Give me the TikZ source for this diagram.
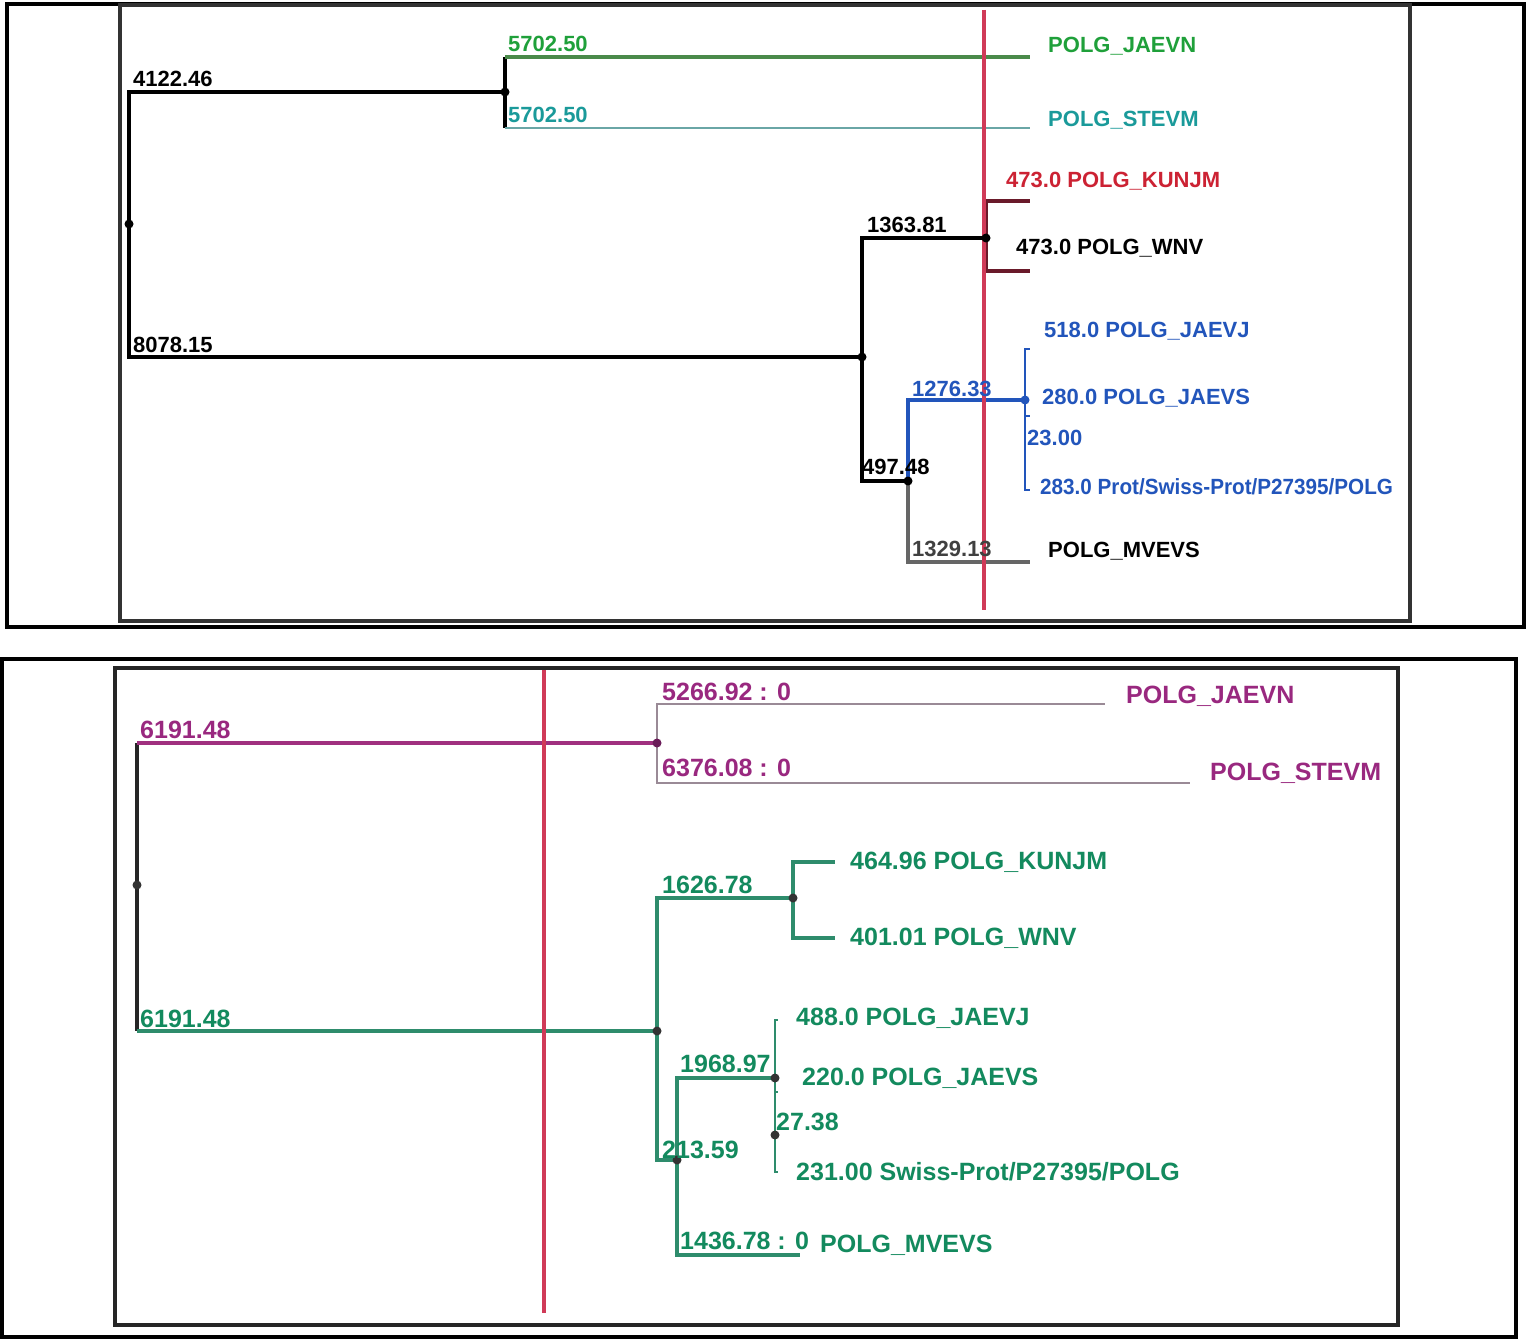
\documentclass[tikz,border=0pt]{standalone}
\usepackage{fontspec}
\setmainfont{Liberation Sans}
\definecolor{tgreen}{HTML}{1FA03A}
\definecolor{tteal}{HTML}{1A9A9A}
\definecolor{tred}{HTML}{CC2233}
\definecolor{tblue}{HTML}{2255BB}
\definecolor{bpurple}{HTML}{99287F}
\definecolor{bgreen}{HTML}{138A5E}
\definecolor{redline}{HTML}{D03A58}
\definecolor{lgreen}{HTML}{4A8A4A}
\definecolor{lteal}{HTML}{6AA6A6}
\definecolor{lpurple}{HTML}{A0307F}
\definecolor{lpgray}{HTML}{9A8A96}
\definecolor{lbgreen}{HTML}{2E8C6C}
\definecolor{maroon}{HTML}{6A1A2A}
\tikzset{
  lab/.style={anchor=west,inner sep=0pt,font=\bfseries\fontsize{22}{24}\selectfont},
  labb/.style={anchor=west,inner sep=0pt,font=\bfseries\fontsize{25}{27}\selectfont},
  treeline/.style={line width=3.4pt},
  thinline/.style={line width=2.6pt},
  redl/.style={line width=3.8pt,draw=redline},
  tdot/.style={circle,fill,inner sep=0pt,minimum size=9pt}}
\begin{document}
\begin{tikzpicture}[x=1pt,y=-1pt]
\useasboundingbox (0,0) rectangle (1526,1340);
\fill[white] (0,0) rectangle (1526,1340);
% frames
\draw[line width=3.8pt] (7,4) rectangle (1524,627);
\draw[line width=3.8pt,black!80] (120,5) rectangle (1410,621);
\draw[line width=3.8pt] (2,659) rectangle (1516,1337);
\draw[line width=3.2pt,black!85] (115,668) rectangle (1398,1325);
% ---------------- top tree ----------------
\coordinate (r1) at (129,224);
\coordinate (n1) at (505,92);
\coordinate (n2) at (862,357);
\coordinate (n3) at (986,238);
\coordinate (n4) at (908,481);
\coordinate (n5) at (1025,400);
\coordinate (n6) at (1025,453);
\coordinate (lJAEVN) at (1030,57);
\coordinate (lSTEVM) at (1030,128);
\coordinate (lKUNJM) at (1030,201);
\coordinate (lWNV) at (1030,271);
\coordinate (lJAEVJ) at (1030,349);
\coordinate (lJAEVS) at (1030,416);
\coordinate (lSWISS) at (1030,490);
\coordinate (lMVEVS) at (1030,562);
\draw[treeline] (r1) |- (n1);
\draw[treeline] (r1) |- (n2);
\draw[treeline] (n1) -- ++(0,-35);
\draw[treeline,draw=lgreen] (n1 |- lJAEVN) -- (lJAEVN);
\draw[treeline] (n1) -- ++(0,36);
\draw[thinline,draw=lteal] (n1 |- lSTEVM) -- (lSTEVM);
\draw[treeline] (n2) |- (n3);
\draw[treeline] (n2) |- (n4);
\draw[treeline,draw=maroon] (n3) |- (lKUNJM);
\draw[treeline,draw=maroon] (n3) |- (lWNV);
\draw[treeline,draw=tblue] (n4) |- (n5);
\draw[treeline,draw=black!60] (n4) |- (lMVEVS);
\draw[thinline,draw=tblue] (n5) |- (lJAEVJ);
\draw[thinline,draw=tblue] (n5) |- (n6);
\draw[thinline,draw=tblue] (n6) |- (lJAEVS);
\draw[thinline,draw=tblue] (n6) |- (lSWISS);
\draw[redl] (984,10) -- (984,610);
\foreach \p in {r1,n1,n2,n3,n4} \node[tdot] at (\p) {};
\node[tdot,fill=tblue] at (n5) {};
% top labels
\node[lab] (t4122) at (133,79) {4122.46};
\node[lab,tgreen] (t5702a) at (508,44) {5702.50};
\node[lab,tteal] (t5702b) at (508,115) {5702.50};
\node[lab,tgreen] (tJAEVN) at (1048,46) {POLG\_JAEVN};
\node[lab,tteal] (tSTEVM) at (1048,120) {POLG\_STEVM};
\node[lab,tred] (tKUNJM) at (1006,181) {473.0 POLG\_KUNJM};
\node[lab] (t1363) at (867,225) {1363.81};
\node[lab] (tWNV) at (1016,248) {473.0 POLG\_WNV};
\node[lab] (t8078) at (133,345) {8078.15};
\node[lab,tblue] (tJAEVJ) at (1044,331) {518.0 POLG\_JAEVJ};
\node[lab,tblue] (t1276) at (912,389) {1276.33};
\node[lab,tblue] (tJAEVS) at (1042,398) {280.0 POLG\_JAEVS};
\node[lab,tblue] (t23) at (1027,438) {23.00};
\node[lab,tblue] (tSWISS) at (1040,487) {\scalebox{0.94}[1]{283.0 Prot/Swiss-Prot/P27395/POLG}};
\node[lab] (t497) at (862,467) {497.48};
\node[lab,black!75] (t1329) at (912,549) {1329.13};
\node[lab] (tMVEVS) at (1048,551) {POLG\_MVEVS};
% ---------------- bottom tree ----------------
\coordinate (R) at (137,885);
\coordinate (m1) at (657,743);
\coordinate (m2) at (657,1031);
\coordinate (m3) at (793,898);
\coordinate (m4) at (677,1160);
\coordinate (m5) at (775,1078);
\coordinate (m6) at (775,1135);
\coordinate (bJAEVN) at (1105,704);
\coordinate (bSTEVM) at (1190,783);
\coordinate (bKUNJM) at (835,862);
\coordinate (bWNV) at (835,938);
\coordinate (bJAEVJ) at (778,1020);
\coordinate (bJAEVS) at (778,1092);
\coordinate (bSWISS) at (778,1172);
\coordinate (bMVEVS) at (800,1255);
\draw[treeline,draw=black!85] (R) -- (R |- m1);
\draw[treeline,draw=lpurple] (R |- m1) -- (m1);
\draw[treeline,draw=black!85] (R) -- (R |- m2);
\draw[treeline,draw=lbgreen] (R |- m2) -- (m2);
\draw[thinline,draw=lpgray] (m1) |- (bJAEVN);
\draw[thinline,draw=lpgray] (m1) |- (bSTEVM);
\draw[treeline,draw=lbgreen] (m2) |- (m3);
\draw[treeline,draw=lbgreen] (m2) |- (m4);
\draw[treeline,draw=lbgreen] (m3) |- (bKUNJM);
\draw[treeline,draw=lbgreen] (m3) |- (bWNV);
\draw[treeline,draw=lbgreen] (m4) |- (m5);
\draw[treeline,draw=lbgreen] (m4) |- (bMVEVS);
\draw[thinline,draw=lbgreen] (m5) |- (bJAEVJ);
\draw[thinline,draw=lbgreen] (m5) |- (m6);
\draw[thinline,draw=lbgreen] (m6) |- (bJAEVS);
\draw[thinline,draw=lbgreen] (m6) |- (bSWISS);
\draw[redl] (544,670) -- (544,1313);
\foreach \p in {R,m2,m3,m4,m5,m6} \node[tdot,fill=black!80] at (\p) {};
\node[tdot,fill=bpurple!70!black] at (m1) {};
% bottom labels
\node[labb,bpurple] (b6191a) at (140,730) {6191.48};
\node[labb,bpurple] (b5266) at (662,692) {5266.92 : 0};
\node[labb,bpurple] (bJAEVNt) at (1126,696) {POLG\_JAEVN};
\node[labb,bpurple] (b6376) at (662,768) {6376.08 : 0};
\node[labb,bpurple] (bSTEVMt) at (1210,773) {POLG\_STEVM};
\node[labb,bgreen] (bKUNJMt) at (850,862) {464.96 POLG\_KUNJM};
\node[labb,bgreen] (b1626) at (662,885) {1626.78};
\node[labb,bgreen] (bWNVt) at (850,938) {401.01 POLG\_WNV};
\node[labb,bgreen] (b6191b) at (140,1019) {6191.48};
\node[labb,bgreen] (bJAEVJt) at (796,1018) {488.0 POLG\_JAEVJ};
\node[labb,bgreen] (b1968) at (680,1064) {1968.97};
\node[labb,bgreen] (bJAEVSt) at (802,1078) {220.0 POLG\_JAEVS};
\node[labb,bgreen] (b27) at (776,1122) {27.38};
\node[labb,bgreen] (b213) at (662,1150) {213.59};
\node[labb,bgreen] (bSWISSt) at (796,1172) {231.00 Swiss-Prot/P27395/POLG};
\node[labb,bgreen] (b1436) at (680,1241) {1436.78 : 0};
\node[labb,bgreen] (bMVEVSt) at (820,1245) {POLG\_MVEVS};
\end{tikzpicture}
\end{document}
